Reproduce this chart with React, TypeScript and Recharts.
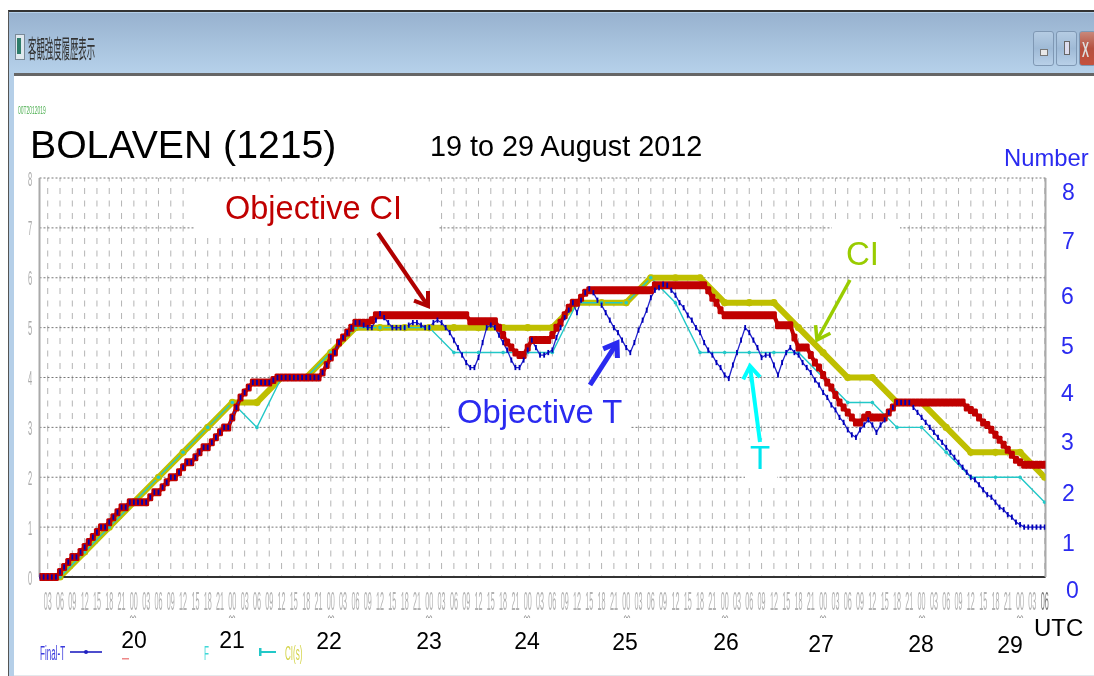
import React from 'react';
import { LineChart, Line, XAxis, YAxis, CartesianGrid } from 'recharts';

const hourLabels = ['00', '03', '06', '09', '12', '15', '18', '21'];
const tickHours: number[] = [3, 6, 9, 12, 15, 18, 21, 24, 27, 30, 33, 36, 39, 42, 45, 48, 51, 54, 57, 60, 63, 66, 69, 72, 75, 78, 81, 84, 87, 90, 93, 96, 99, 102, 105, 108, 111, 114, 117, 120, 123, 126, 129, 132, 135, 138, 141, 144, 147, 150, 153, 156, 159, 162, 165, 168, 171, 174, 177, 180, 183, 186, 189, 192, 195, 198, 201, 204, 207, 210, 213, 216, 219, 222, 225, 228, 231, 234, 237, 240, 243, 246];
const valueTicks = [0, 1, 2, 3, 4, 5, 6, 7, 8];

// six-hourly values, starting at hour 6
const ciValues = [0, 0.5, 1, 1.5, 2, 2.5, 3, 3.5, 3.5, 4, 4, 4.5, 5, 5, 5, 5, 5, 5, 5, 5, 5, 5.5, 5.5, 5.5, 6, 6, 6, 5.5, 5.5, 5.5, 5, 4.5, 4, 4, 3.5, 3.5, 3, 2.5, 2.5, 2.5, 2];
const tValues = [0, 0.5, 1, 1.5, 2, 2.5, 3, 3.5, 3, 4, 4, 4.5, 5, 5, 5, 5, 4.5, 4.5, 4.5, 4.5, 4.5, 5.5, 5.5, 5.5, 6, 5.5, 4.5, 4.5, 4.5, 4.5, 4.5, 4, 3.5, 3.5, 3, 3, 2.5, 2, 2, 2, 1.5];

// hourly values, starting at hour 1
const objectiveCi = [
  0, 0, 0, 0, 0, 0.1, 0.2, 0.3, 0.4, 0.4,
  0.5, 0.6, 0.7, 0.8, 0.9, 1.0, 1.0, 1.1, 1.2, 1.3,
  1.4, 1.4, 1.5, 1.5, 1.5, 1.5, 1.5, 1.6, 1.7, 1.7,
  1.8, 1.9, 2.0, 2.0, 2.1, 2.2, 2.3, 2.3, 2.4, 2.5,
  2.6, 2.6, 2.7, 2.8, 2.9, 3.0, 3.0, 3.2, 3.4, 3.6,
  3.7, 3.8, 3.9, 3.9, 3.9, 3.9, 3.9, 3.95, 4.0, 4.0,
  4.0, 4.0, 4.0, 4.0, 4.0, 4.0, 4.0, 4.0, 4.0, 4.1,
  4.25, 4.4, 4.5, 4.7, 4.8, 4.9, 5.0, 5.1, 5.1, 5.1,
  5.1, 5.15, 5.25, 5.25, 5.25, 5.25, 5.25, 5.25, 5.25, 5.25,
  5.25, 5.25, 5.25, 5.25, 5.25, 5.25, 5.25, 5.25, 5.25, 5.25,
  5.25, 5.25, 5.25, 5.25, 5.25, 5.13, 5.13, 5.13, 5.13, 5.13,
  5.13, 5.13, 5.0, 4.85, 4.7, 4.6, 4.5, 4.45, 4.45, 4.6,
  4.75, 4.75, 4.75, 4.75, 4.75, 4.85, 5.0, 5.1, 5.25, 5.4,
  5.5, 5.5, 5.6, 5.7, 5.75, 5.75, 5.75, 5.75, 5.75, 5.75,
  5.75, 5.75, 5.75, 5.75, 5.75, 5.75, 5.75, 5.75, 5.75, 5.75,
  5.85, 5.85, 5.85, 5.85, 5.85, 5.85, 5.85, 5.85, 5.85, 5.85,
  5.85, 5.85, 5.85, 5.75, 5.6, 5.5, 5.35, 5.25, 5.25, 5.25,
  5.25, 5.25, 5.25, 5.25, 5.25, 5.25, 5.25, 5.25, 5.25, 5.25,
  5.05, 5.05, 5.05, 5.05, 4.8, 4.6, 4.6, 4.6, 4.45, 4.3,
  4.2, 4.05, 3.9, 3.8, 3.65, 3.5, 3.4, 3.3, 3.2, 3.1,
  3.1, 3.2, 3.25, 3.2, 3.2, 3.2, 3.2, 3.3, 3.4, 3.5,
  3.5, 3.5, 3.5, 3.5, 3.5, 3.5, 3.5, 3.5, 3.5, 3.5,
  3.5, 3.5, 3.5, 3.5, 3.5, 3.5, 3.4, 3.35, 3.3, 3.2,
  3.1, 3.05, 2.95, 2.85, 2.75, 2.65, 2.55, 2.45, 2.35, 2.3,
  2.25, 2.25, 2.25, 2.25, 2.25, 2.25,
];
const objectiveT = [
  0, 0, 0, 0, 0, 0.1, 0.2, 0.3, 0.4, 0.4,
  0.5, 0.6, 0.7, 0.8, 0.9, 1.0, 1.0, 1.1, 1.2, 1.3,
  1.4, 1.4, 1.5, 1.5, 1.5, 1.5, 1.5, 1.6, 1.7, 1.7,
  1.8, 1.9, 2.0, 2.0, 2.1, 2.2, 2.3, 2.3, 2.4, 2.5,
  2.6, 2.6, 2.7, 2.8, 2.9, 3.0, 3.0, 3.2, 3.4, 3.6,
  3.7, 3.8, 3.9, 3.9, 3.9, 3.9, 3.9, 3.95, 4.0, 4.0,
  4.0, 4.0, 4.0, 4.0, 4.0, 4.0, 4.0, 4.0, 4.0, 4.1,
  4.25, 4.4, 4.5, 4.7, 4.8, 4.9, 5.0, 5.1, 5.1, 5.05,
  5.0, 5.0, 5.15, 5.28, 5.2, 5.1, 5.0, 5.0, 5.0, 5.0,
  5.05, 5.1, 5.1, 5.05, 5.0, 5.0, 5.1, 5.15, 5.1, 5.0,
  4.9, 4.75, 4.6, 4.45, 4.3, 4.2, 4.2, 4.4, 4.7, 5.0,
  5.05, 5.0, 4.85, 4.7, 4.55, 4.35, 4.2, 4.2, 4.35, 4.55,
  4.75, 4.6, 4.45, 4.45, 4.5, 4.55, 4.8, 5.0, 5.2, 5.35,
  5.5, 5.3, 5.55, 5.7, 5.78, 5.7, 5.55, 5.45, 5.3, 5.15,
  5.0, 4.9, 4.75, 4.6, 4.5, 4.7, 4.95, 5.15, 5.35, 5.6,
  5.75, 5.8, 5.87, 5.85, 5.75, 5.65, 5.5, 5.4, 5.25, 5.15,
  5.0, 4.9, 4.7, 4.55, 4.45, 4.3, 4.2, 4.05, 3.98, 4.25,
  4.5, 4.75, 5.0, 4.9, 4.75, 4.6, 4.4, 4.45, 4.45, 4.25,
  4.05, 4.3, 4.5, 4.6, 4.5, 4.45, 4.3, 4.2, 4.1, 3.95,
  3.85, 3.7, 3.6, 3.45, 3.35, 3.2, 3.1, 2.95, 2.85, 2.8,
  2.95, 3.05, 3.15, 3.05, 2.9, 3.05, 3.15, 3.3, 3.4, 3.5,
  3.5, 3.5, 3.5, 3.4, 3.3, 3.2, 3.1, 3.0, 2.9, 2.8,
  2.7, 2.6, 2.5, 2.4, 2.3, 2.2, 2.1, 2.0, 1.95, 1.85,
  1.75, 1.65, 1.6, 1.5, 1.4, 1.35, 1.25, 1.2, 1.1, 1.05,
  1.0, 1.0, 1.0, 1.0, 1.0, 1.0,
];

const rightNumbers = [
  { t: '8', x: 1062, y: 200 }, { t: '7', x: 1062, y: 249 }, { t: '6', x: 1061, y: 304 },
  { t: '5', x: 1061, y: 354 }, { t: '4', x: 1061, y: 401 }, { t: '3', x: 1061, y: 450 },
  { t: '2', x: 1062, y: 501 }, { t: '1', x: 1062, y: 551 }, { t: '0', x: 1066, y: 598 },
];
const dayLabels = [
  { t: '20', x: 134, y: 648 }, { t: '21', x: 232, y: 648 }, { t: '22', x: 329, y: 649 },
  { t: '23', x: 429, y: 649 }, { t: '24', x: 527, y: 649 }, { t: '25', x: 625, y: 650 },
  { t: '26', x: 726, y: 650 }, { t: '27', x: 821, y: 652 }, { t: '28', x: 921, y: 652 }, { t: '29', x: 1010, y: 653 },
];
const dayMarks = [133, 232, 331, 429, 527, 627, 725, 823, 922, 1020];

const rows = objectiveCi.map((oci, i) => {
  const h = i + 1;
  const six = h % 6 === 0 ? h / 6 - 1 : -1;
  return {
    h,
    objectiveCi: oci,
    objectiveT: objectiveT[i],
    ci: six >= 0 ? ciValues[six] : null,
    t: six >= 0 ? tValues[six] : null,
  };
});

const XTick = (p: any) => {
  const h = p.payload.value as number;
  return (
    <text
      transform={`translate(${p.x},610) scale(0.72,2.5)`}
      textAnchor="middle"
      fontSize={10}
      fontFamily="Liberation Sans"
      fill={h === 246 ? '#777' : '#b2b2b2'}
    >
      {hourLabels[(h % 24) / 3]}
    </text>
  );
};
const YTick = (p: any) => (
  <text
    transform={`translate(30,${p.y + 7.5}) scale(0.75,2.05)`}
    textAnchor="middle"
    fontSize={10}
    fontFamily="Liberation Sans"
    fill="#aaa"
  >
    {p.payload.value}
  </text>
);
const RightTick = (p: any) => (
  <rect x={1056.5} y={p.y - 11} width={1.5} height={3} fill={p.payload.value === 8 ? '#fff' : '#999'} />
);
const BlueDot = (p: any) => (
  <g key={p.index}>
    <rect x={p.cx - 0.9} y={p.cy - 2.6} width={1.8} height={5.2} fill="#0000b8" />
  </g>
);
const RedDot = (p: any) => (
  <rect key={p.index} x={p.cx - 3} y={p.cy - 4} width={6} height={8} rx={1.5} fill="#c00000" />
);

const squish = (t: string, x: number, y: number, sx: number, sy: number, size: number, fill: string) => (
  <text transform={`translate(${x},${y}) scale(${sx},${sy})`} fontSize={size} fill={fill} fontFamily="Liberation Sans">
    {t}
  </text>
);

const Arrow = ({ x1, y1, x2, y2, color, w }: { x1: number; y1: number; x2: number; y2: number; color: string; w: number }) => {
  const a = Math.atan2(y2 - y1, x2 - x1);
  const L = 15;
  const p = (ang: number) => `${x2 - L * Math.cos(a + ang)},${y2 - L * Math.sin(a + ang)}`;
  return (
    <g fill="none" stroke={color} strokeWidth={w} strokeLinecap="butt">
      <line x1={x1} y1={y1} x2={x2} y2={y2} />
      <polyline points={`${p(0.6)} ${x2},${y2} ${p(-0.6)}`} />
    </g>
  );
};

const btn = (left: number, width: number, bg: string): React.CSSProperties => ({
  position: 'absolute', left, top: 31, width, height: 35, borderRadius: 3, background: bg,
  border: '1px solid #7f98b4', boxSizing: 'border-box',
});

export default function App() {
  return (
    <div style={{ position: 'absolute', left: 0, top: 0, width: 1094, height: 676, overflow: 'hidden', background: '#fff', fontFamily: 'Liberation Sans' }}>
      {/* window frame */}
      <div style={{ position: 'absolute', left: 8, top: 10, width: 1086, height: 666, background: '#b5cfe8', borderTop: '2px solid #333', borderLeft: '1px solid #555', boxSizing: 'border-box' }} />
      <div style={{ position: 'absolute', left: 9, top: 13, width: 1085, height: 60, background: 'linear-gradient(#98b2cf,#b6d1ea)' }} />
      <div style={{ position: 'absolute', left: 14, top: 73, width: 1080, height: 603, background: '#fff', borderTop: '3px solid #666', borderBottom: '1px solid #e4e8ec', boxSizing: 'border-box' }} />
      <div style={{ position: 'absolute', left: 15, top: 34, width: 10, height: 26, background: '#dfe8ee', border: '1px solid #7a8a99', boxSizing: 'border-box' }}>
        <div style={{ position: 'absolute', left: 1, top: 3, width: 4, height: 16, background: '#2e7d6b' }} />
      </div>
      <div style={btn(1033, 21, 'linear-gradient(#b5cce3,#9fbad6 50%,#b8d0e8)')}>
        <div style={{ position: 'absolute', left: 6, top: 17, width: 8, height: 7, background: '#e8e8e8', border: '1px solid #777', boxSizing: 'border-box' }} />
      </div>
      <div style={btn(1056, 21, 'linear-gradient(#b5cce3,#9fbad6 50%,#b8d0e8)')}>
        <div style={{ position: 'absolute', left: 7, top: 9, width: 6, height: 14, background: '#dde', border: '1px solid #666', boxSizing: 'border-box' }} />
      </div>
      <div style={btn(1079, 17, 'linear-gradient(#c9887a,#b5503f 50%,#c4503c)')} />

      <LineChart
        width={1094}
        height={676}
        data={rows}
        margin={{ left: 9.5, right: 28.5, top: 178, bottom: 69 }}
        style={{ position: 'absolute', left: 0, top: 0, filter: 'blur(0.3px)' }}
      >
        <CartesianGrid yAxisId="left" horizontal={false} vertical stroke="#b4b4b4" strokeDasharray="6 6.5" strokeDashoffset={2.5} />
        <CartesianGrid yAxisId="left" horizontal vertical={false} stroke="#777" strokeDasharray="2 2" />
        <XAxis
          dataKey="h"
          type="number"
          domain={[1, 246.2]}
          allowDataOverflow
          ticks={tickHours}
          interval={0}
          tick={<XTick />}
          tickLine={false}
          axisLine={{ stroke: '#333', strokeWidth: 2 }}
          height={30}
        />
        <YAxis
          yAxisId="left"
          domain={[0, 8]}
          ticks={valueTicks}
          interval={0}
          width={30}
          tick={<YTick />}
          tickLine={false}
          axisLine={{ stroke: '#aaa', strokeWidth: 2 }}
        />
        <YAxis
          yAxisId="right"
          orientation="right"
          domain={[0, 8]}
          ticks={valueTicks}
          interval={0}
          width={20}
          tick={<RightTick />}
          tickLine={false}
          axisLine={{ stroke: '#aaa', strokeWidth: 2 }}
        />
        <Line
          yAxisId="left" name="CI" dataKey="ci" connectNulls isAnimationActive={false}
          stroke="#bfbf00" strokeWidth={6} dot={{ r: 3.6, fill: '#bfbf00', stroke: 'none' }}
        />
        <Line
          yAxisId="left" name="Final-T (s)" dataKey="t" connectNulls isAnimationActive={false}
          stroke="#22c8c8" strokeWidth={1.4} dot={{ r: 1.8, fill: '#22c8c8', stroke: 'none' }}
        />
        <Line
          yAxisId="left" name="Objective CI" dataKey="objectiveCi" isAnimationActive={false}
          stroke="#c00000" strokeWidth={4} dot={<RedDot />}
        />
        <Line
          yAxisId="left" name="Final-T" dataKey="objectiveT" isAnimationActive={false}
          stroke="#2222cc" strokeWidth={1.3} dot={<BlueDot />}
        />
      </LineChart>

      {/* white boxes behind the annotations */}
      <div style={{ position: 'absolute', left: 194, top: 187, width: 245, height: 48, background: '#fff' }} />
      <div style={{ position: 'absolute', left: 832, top: 225, width: 68, height: 48, background: '#fff' }} />
      <div style={{ position: 'absolute', left: 450, top: 393, width: 180, height: 40, background: '#fff' }} />
      <div style={{ position: 'absolute', left: 745, top: 440, width: 32, height: 42, background: '#fff' }} />

      <svg width={1094} height={676} style={{ position: 'absolute', left: 0, top: 0 }}>
        <g style={{ filter: 'blur(0.5px)' }}>
          <text transform="translate(28,58) scale(0.6,1.75)" fontSize={14} fontFamily="Noto Sans CJK JP" fill="#333">客観強度履歴表示</text>
          <text transform="translate(1082,57) scale(0.75,1.6)" fontSize={14} fontWeight={700} fill="#ddd" fontFamily="Liberation Sans">X</text>
          {squish('00T2012019', 18, 114, 0.62, 1.4, 8, '#4caf50')}
          {squish('Final-T', 40, 660, 0.62, 1.55, 13, '#3b3bdd')}
          {squish('F', 204, 660, 0.62, 1.55, 13, '#40d8d8')}
          {squish('CI(s)', 285, 660, 0.62, 1.55, 13, '#d4d44a')}
          <line x1={70} y1={652} x2={102} y2={652} stroke="#2020c0" strokeWidth={1.6} />
          <circle cx={86} cy={652} r={2} fill="#2020c0" />
          <line x1={259} y1={652} x2={276} y2={652} stroke="#22c8c8" strokeWidth={2} />
          <rect x={259} y={648} width={2.5} height={8} fill="#22c8c8" />
          <rect x={122} y={658} width={7} height={1.5} fill="#e88" />
          {dayMarks.map((x) => (
            <text key={x} x={x} y={620} fontSize={7} fill="#666" textAnchor="middle">^^</text>
          ))}
        </g>
        <text x={30} y={158} fontSize={39.2} fill="#000">BOLAVEN (1215)</text>
        <text x={430} y={156} fontSize={28.8} fill="#000">19 to 29 August 2012</text>
        <text x={225} y={219} fontSize={32.5} fill="#c00000">Objective CI</text>
        <text x={457} y={423} fontSize={32.8} fill="#2a2af0">Objective T</text>
        <text x={846} y={265} fontSize={33} fill="#99cc00">CI</text>
        <text x={750} y={469} fontSize={33} fill="#00e5ee">T</text>
        <text x={1004} y={166} fontSize={23.8} fill="#2a2af0">Number</text>
        {rightNumbers.map((n) => (
          <text key={n.t} x={n.x} y={n.y} fontSize={23} fill="#2a2af0">{n.t}</text>
        ))}
        {dayLabels.map((d) => (
          <text key={d.t} x={d.x} y={d.y} fontSize={23} fill="#000" textAnchor="middle">{d.t}</text>
        ))}
        <text x={1034} y={636} fontSize={24} fill="#000">UTC</text>
        <Arrow x1={378} y1={233} x2={428} y2={306} color="#b00000" w={4} />
        <Arrow x1={590} y1={385} x2={617} y2={343} color="#2a2af0" w={5} />
        <Arrow x1={760} y1={442} x2={750} y2={366} color="#00ffff" w={4} />
        <Arrow x1={850} y1={280} x2={817} y2={340} color="#99cc00" w={3.5} />
      </svg>
    </div>
  );
}
